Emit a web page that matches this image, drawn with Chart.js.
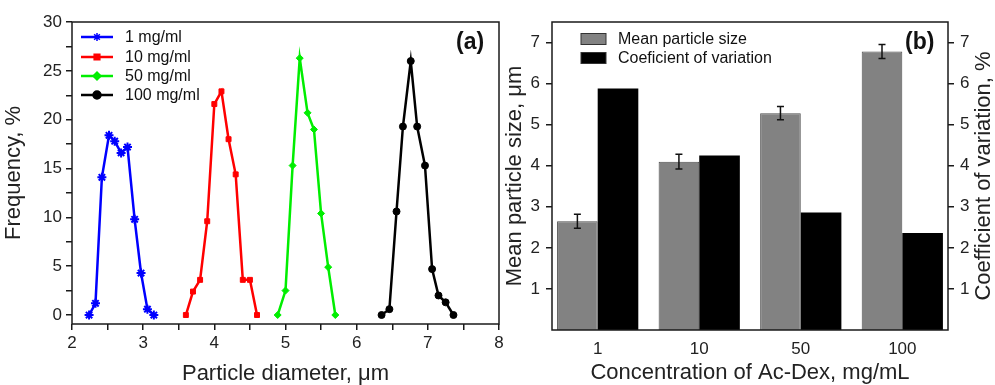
<!DOCTYPE html>
<html>
<head>
<meta charset="utf-8">
<script src="https://cdn.jsdelivr.net/npm/chart.js@4"></script>
<style>
  body { margin: 0; background: #fff; width: 995px; height: 385px; overflow: hidden; position: relative; }
  canvas { position: absolute; top: 0; }
  #chartA { left: 0; }
  #chartB { left: 495px; }
</style>
</head>
<body>
<canvas id="chartA" width="510" height="385"></canvas>
<canvas id="chartB" width="500" height="385"></canvas>
<script>
// (a) particle size distributions
const seriesNames = ['1 mg/ml', '10 mg/ml', '50 mg/ml', '100 mg/ml'];
const diam1 = [2.24, 2.33, 2.42, 2.52, 2.60, 2.69, 2.78, 2.88, 2.97, 3.06, 3.15];
const freq1 = [0, 1.2, 14.1, 18.4, 17.8, 16.6, 17.2, 9.8, 4.3, 0.6, 0];
const diam10 = [3.60, 3.70, 3.80, 3.90, 4.00, 4.10, 4.20, 4.30, 4.40, 4.50, 4.60];
const freq10 = [0, 2.4, 3.6, 9.6, 21.6, 22.9, 18.0, 14.4, 3.6, 3.6, 0];
const diam50 = [4.89, 5.00, 5.10, 5.20, 5.31, 5.40, 5.50, 5.60, 5.70];
const freq50 = [0, 2.5, 15.3, 26.3, 20.7, 19.0, 10.4, 4.9, 0];
const diam100 = [6.35, 6.46, 6.56, 6.65, 6.76, 6.85, 6.96, 7.06, 7.15, 7.25, 7.36];
const freq100 = [0, 0.6, 10.6, 19.3, 26.0, 19.3, 15.3, 4.7, 2.0, 1.3, 0];
const diamTicks = [2, 2.5, 3, 3.5, 4, 4.5, 5, 5.5, 6, 6.5, 7, 7.5, 8];
const freqTicks = [0, 2.5, 5, 7.5, 10, 12.5, 15, 17.5, 20, 22.5, 25, 27.5, 30];

// (b) mean size and coefficient of variation
const concLabels = ['1', '10', '50', '100'];
const meanSize = [2.65, 4.10, 5.28, 6.78];
const sizeErr = [0.17, 0.18, 0.16, 0.17];
const coefVar = [5.88, 4.25, 2.86, 2.36];
const sizeTicks = [1, 2, 3, 4, 5, 6, 7];

const FONT = '"Liberation Sans", Arial, sans-serif';
const AXIS = '#1a1a1a';

function pts(xs, ys) {
    return xs.map((x, i) => ({ x: x, y: ys[i] }));
}

// marco alrededor del área del gráfico
const framePlugin = {
    id: 'frame',
    afterDatasetsDraw(chart) {
        const a = chart.chartArea, ctx = chart.ctx;
        ctx.save();
        ctx.strokeStyle = AXIS;
        ctx.lineWidth = 1.5;
        ctx.strokeRect(a.left, a.top, a.right - a.left, a.bottom - a.top);
        ctx.restore();
    }
};

function panelLabel(text, x, y) {
    return {
        id: 'panel' + text,
        afterDraw(chart) {
            const ctx = chart.ctx;
            ctx.save();
            ctx.font = 'bold 23px ' + FONT;
            ctx.fillStyle = '#111';
            ctx.textAlign = 'left';
            ctx.textBaseline = 'middle';
            ctx.fillText(text, x, y);
            ctx.restore();
        }
    };
}

const legendA = {
    id: 'legendA',
    afterDraw(chart) {
        const ctx = chart.ctx;
        const rows = [37, 57, 76, 95];
        ctx.save();
        chart.data.datasets.forEach((ds, i) => {
            const y = rows[i];
            ctx.strokeStyle = ds.borderColor;
            ctx.fillStyle = ds.borderColor;
            ctx.lineWidth = 2.5;
            ctx.beginPath();
            ctx.moveTo(81, y);
            ctx.lineTo(113, y);
            ctx.stroke();
            ctx.lineWidth = 1.5;
            Chart.helpers.drawPoint(ctx, { pointStyle: ds.pointStyle, radius: 4, rotation: 0, borderWidth: 1.5 }, 97, y);
            ctx.fillStyle = '#111';
            ctx.font = '16px ' + FONT;
            ctx.textBaseline = 'middle';
            ctx.fillText(ds.label, 125, y + 1);
        });
        ctx.restore();
    }
};

const colorsA = ['#0000ff', '#ff0000', '#00ee00', '#000000'];
const stylesA = ['star', 'rect', 'rectRot', 'circle'];
const xsA = [diam1, diam10, diam50, diam100];
const ysA = [freq1, freq10, freq50, freq100];

new Chart(document.getElementById('chartA'), {
    type: 'line',
    data: {
        datasets: seriesNames.map((name, i) => ({
            label: name,
            data: pts(xsA[i], ysA[i]),
            borderColor: colorsA[i],
            backgroundColor: colorsA[i],
            pointBackgroundColor: colorsA[i],
            pointBorderColor: colorsA[i],
            pointStyle: stylesA[i],
            pointRadius: stylesA[i] === 'star' ? 4.5 : 3.5,
            pointBorderWidth: stylesA[i] === 'star' ? 2 : 1,
            borderWidth: 2.5,
            tension: 0
        }))
    },
    options: {
        responsive: false,
        animation: false,
        devicePixelRatio: 1,
        layout: { padding: { left: 0, top: 22, right: 11, bottom: 0 } },
        plugins: { legend: { display: false }, tooltip: { enabled: false } },
        scales: {
            x: {
                type: 'linear',
                min: 2, max: 8,
                afterBuildTicks: s => { s.ticks = diamTicks.map(v => ({ value: v })); },
                afterFit: s => { s.height = 61; },
                grid: { drawOnChartArea: false, tickLength: 6, color: AXIS, lineWidth: 1.5 },
                border: { display: false },
                ticks: {
                    autoSkip: false, maxRotation: 0, padding: 3, color: '#222',
                    font: { family: FONT, size: 17 },
                    callback: v => Number.isInteger(v) ? v : ''
                },
                title: {
                    display: true, text: 'Particle diameter, μm', color: '#222',
                    font: { family: FONT, size: 22, lineHeight: 1 }, padding: { top: 0, bottom: 0 }
                }
            },
            y: {
                min: -0.92, max: 30,
                afterBuildTicks: s => { s.ticks = freqTicks.map(v => ({ value: v })); },
                afterFit: s => { s.width = 72; },
                grid: { drawOnChartArea: false, tickLength: 6, color: AXIS, lineWidth: 1.5 },
                border: { display: false },
                ticks: {
                    autoSkip: false, padding: 4, color: '#222',
                    font: { family: FONT, size: 17 },
                    callback: v => v % 5 === 0 ? v : ''
                },
                title: {
                    display: true, text: 'Frequency, %', color: '#222',
                    font: { family: FONT, size: 22, lineHeight: 1 }, padding: { top: 3, bottom: 0 }
                }
            }
        }
    },
    plugins: [framePlugin, legendA, panelLabel('(a)', 456, 43)]
});

// barras de error sobre el tamaño medio
const errorBars = {
    id: 'errorBars',
    afterDatasetsDraw(chart) {
        const ctx = chart.ctx;
        const meta = chart.getDatasetMeta(0);
        const ys = chart.scales.y;
        ctx.save();
        ctx.strokeStyle = '#111';
        ctx.lineWidth = 1.5;
        meta.data.forEach((bar, i) => {
            const t = ys.getPixelForValue(meanSize[i] + sizeErr[i]);
            const b = ys.getPixelForValue(meanSize[i] - sizeErr[i]);
            ctx.beginPath();
            ctx.moveTo(bar.x, t); ctx.lineTo(bar.x, b);
            ctx.moveTo(bar.x - 3.5, t); ctx.lineTo(bar.x + 3.5, t);
            ctx.moveTo(bar.x - 3.5, b); ctx.lineTo(bar.x + 3.5, b);
            ctx.stroke();
        });
        ctx.restore();
    }
};

const legendB = {
    id: 'legendB',
    afterDraw(chart) {
        const ctx = chart.ctx;
        const rows = [39, 58];
        ctx.save();
        chart.data.datasets.forEach((ds, i) => {
            const y = rows[i];
            ctx.fillStyle = ds.backgroundColor;
            ctx.fillRect(86, y - 5.5, 25, 11);
            ctx.strokeStyle = '#333';
            ctx.lineWidth = 1;
            ctx.strokeRect(86, y - 5.5, 25, 11);
            ctx.fillStyle = '#111';
            ctx.font = '16px ' + FONT;
            ctx.textBaseline = 'middle';
            ctx.fillText(ds.label, 123, y + 1);
        });
        ctx.restore();
    }
};

// título del eje derecho, leído de abajo hacia arriba
const rightTitle = {
    id: 'rightTitle',
    afterDraw(chart) {
        const ctx = chart.ctx, a = chart.chartArea;
        ctx.save();
        ctx.translate(489, (a.top + a.bottom) / 2);
        ctx.rotate(-Math.PI / 2);
        ctx.font = '22px ' + FONT;
        ctx.fillStyle = '#222';
        ctx.textAlign = 'center';
        ctx.textBaseline = 'middle';
        ctx.fillText('Coefficient of variation, %', 0, 0);
        ctx.restore();
    }
};

const yTickOpts = {
    autoSkip: false, color: '#222', padding: 6,
    font: { family: FONT, size: 17 }
};

// posición de cada grupo en el eje x
const concPos = concLabels.map((_, i) => i);

new Chart(document.getElementById('chartB'), {
    type: 'bar',
    data: {
        datasets: [
            {
                label: 'Mean particle size',
                data: pts(concPos, meanSize),
                yAxisID: 'y',
                backgroundColor: '#828282',
                borderColor: '#4d4d4d',
                borderWidth: 1,
                categoryPercentage: 0.8,
                barPercentage: 1
            },
            {
                label: 'Coeficient of variation',
                data: pts(concPos, coefVar),
                yAxisID: 'y2',
                backgroundColor: '#000000',
                borderWidth: 0,
                categoryPercentage: 0.8,
                barPercentage: 1
            }
        ]
    },
    options: {
        responsive: false,
        animation: false,
        devicePixelRatio: 1,
        layout: { padding: { left: 5, top: 22, right: 0, bottom: 0 } },
        plugins: { legend: { display: false }, tooltip: { enabled: false } },
        scales: {
            x: {
                type: 'linear',
                min: -0.45, max: 3.45,
                offset: false,
                afterBuildTicks: s => { s.ticks = concPos.map(v => ({ value: v })); },
                afterFit: s => { s.height = 55; },
                grid: { display: false, drawTicks: false },
                border: { display: false },
                ticks: {
                    autoSkip: false, maxRotation: 0, color: '#222', padding: 9,
                    font: { family: FONT, size: 17 },
                    callback: v => concLabels[v]
                },
                title: {
                    display: true, text: 'Concentration of Ac-Dex, mg/mL', color: '#222',
                    font: { family: FONT, size: 22, lineHeight: 1 }, padding: { top: 0, bottom: 1 }
                }
            },
            y: {
                position: 'left',
                min: 0, max: 7.5,
                afterBuildTicks: s => { s.ticks = sizeTicks.map(v => ({ value: v })); },
                afterFit: s => { s.width = 52; },
                grid: { drawOnChartArea: false, tickLength: 6, color: AXIS, lineWidth: 1.5 },
                border: { display: false },
                ticks: yTickOpts,
                title: {
                    display: true, text: 'Mean particle size, μm', color: '#222',
                    font: { family: FONT, size: 22, lineHeight: 1 }, padding: { top: 4, bottom: 0 }
                }
            },
            y2: {
                position: 'right',
                min: 0, max: 7.5,
                afterBuildTicks: s => { s.ticks = sizeTicks.map(v => ({ value: v })); },
                afterFit: s => { s.width = 47; },
                grid: { drawOnChartArea: false, tickLength: 6, color: AXIS, lineWidth: 1.5 },
                border: { display: false },
                ticks: yTickOpts
            }
        }
    },
    plugins: [framePlugin, errorBars, legendB, rightTitle, panelLabel('(b)', 410, 43)]
});
</script>
</body>
</html>
